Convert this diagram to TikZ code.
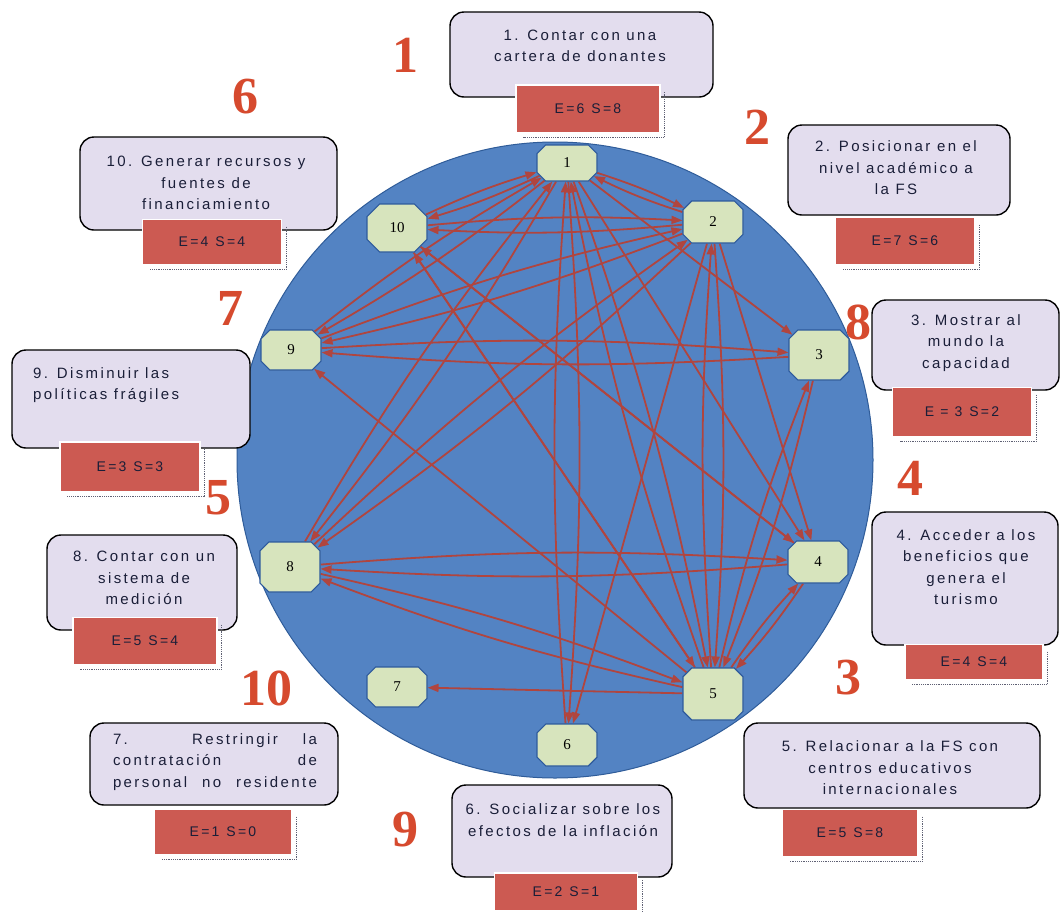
\documentclass[tikz,border=0pt]{standalone}
\usepackage{fontspec}
\setmainfont{Liberation Sans}
\newfontfamily\boxfont[LetterSpace=16]{Liberation Sans}
\newfontfamily\numfont{Liberation Serif}
\usetikzlibrary{shapes.misc,arrows.meta}

\definecolor{disc}{HTML}{5383C3}
\definecolor{discedge}{HTML}{2F5C99}
\definecolor{octfill}{HTML}{D7E4BD}
\definecolor{octedge}{HTML}{2E5A9C}
\definecolor{linkc}{HTML}{B0453F}
\definecolor{cardfill}{HTML}{E3DDEE}
\definecolor{tagfill}{HTML}{CC5A52}
\definecolor{bignumc}{HTML}{D64A2E}
\definecolor{ink}{HTML}{1A1E38}

\pgfdeclarelayer{back}
\pgfdeclarelayer{links}
\pgfsetlayers{back,links,main}

\tikzset{
  octa/.style={chamfered rectangle, chamfered rectangle xsep=11pt,
    chamfered rectangle ysep=11pt, minimum width=60pt, minimum height=42pt,
    inner sep=0pt, fill=octfill, draw=octedge, line width=1.1pt,
    font=\numfont\fontsize{15}{15}\selectfont, text=black},
  card/.style={rectangle, rounded corners=14pt, draw=black, line width=1.4pt,
    fill=cardfill, inner sep=0pt},
  cardtext/.style={align=center, font=\boxfont\fontsize{15}{21.5}\selectfont,
    text=ink, inner sep=0pt},
  tag/.style={rectangle, fill=tagfill, draw=white, line width=1.6pt, inner sep=0pt,
    font=\boxfont\fontsize{14}{14}\selectfont, text=ink},
  tagshade/.style={draw=ink!70, densely dotted, line width=1.2pt},
  bignum/.style={font=\numfont\bfseries\fontsize{52}{52}\selectfont, text=bignumc},
  link/.style={draw=linkc, line width=1.8pt, -{Triangle[length=11pt,width=8pt]}},
  twoway/.style={bend left=4},
}

\begin{document}
\begin{tikzpicture}[x=1pt,y=-1pt]
\useasboundingbox (0,0) rectangle (1061,911);

% ---- background and the big disc ----
\begin{pgfonlayer}{back}
  \fill[white] (0,0) rectangle (1061,911);
  \node[circle, minimum size=636pt, inner sep=0pt, fill=disc, draw=discedge,
        line width=1pt] (disc) at (555,460) {};
\end{pgfonlayer}

% ---- octagonal nodes ----
\node[octa, minimum height=36pt] (n1)  at (567,163) {1};
\node[octa, minimum height=48pt] (n10) at (397,228) {10};
\node[octa]                      (n2)  at (713,222) {2};
\node[octa, minimum height=40pt] (n9)  at (291,350) {9};
\node[octa, minimum height=50pt] (n3)  at (819,355) {3};
\node[octa, minimum height=50pt] (n8)  at (290,567) {8};
\node[octa]                      (n4)  at (818,562) {4};
\node[octa, minimum height=40pt] (n7)  at (397,687) {7};
\node[octa, minimum height=52pt] (n5)  at (713,694) {5};
\node[octa]                      (n6)  at (567,745) {6};

% ---- influence links ----
\begin{pgfonlayer}{links}
  \draw[link] (n1) to[twoway] (n2);
  \draw[link] (n2) to[twoway] (n1);
  \draw[link] (n1) to[twoway] (n10);
  \draw[link] (n10) to[twoway] (n1);
  \draw[link] (n1) to[twoway] (n9);
  \draw[link] (n9) to[twoway] (n1);
  \draw[link] (n1) to[twoway] (n8);
  \draw[link] (n8) to[twoway] (n1);
  \draw[link] (n1) to[twoway] (n6);
  \draw[link] (n6) to[twoway] (n1);
  \draw[link] (n1) to[twoway] (n5);
  \draw[link] (n5) to[twoway] (n1);
  \draw[link] (n1) -- (n4);
  \draw[link] (n1) -- (n3);
  \draw[link] (n2) to[twoway] (n10);
  \draw[link] (n10) to[twoway] (n2);
  \draw[link] (n2) to[twoway] (n9);
  \draw[link] (n9) to[twoway] (n2);
  \draw[link] (n2) to[twoway] (n8);
  \draw[link] (n8) to[twoway] (n2);
  \draw[link] (n2) -- (n6);
  \draw[link] (n2) to[twoway] (n5);
  \draw[link] (n5) to[twoway] (n2);
  \draw[link] (n2) -- (n4);
  \draw[link] (n3) to[twoway] (n9);
  \draw[link] (n9) to[twoway] (n3);
  \draw[link] (n3) to[twoway] (n5);
  \draw[link] (n5) to[twoway] (n3);
  \draw[link] (n4) to[twoway] (n8);
  \draw[link] (n8) to[twoway] (n4);
  \draw[link] (n4) to[twoway] (n5);
  \draw[link] (n5) to[twoway] (n4);
  \draw[link] (n4) -- (n10);
  \draw[link] (n5) -- (n7);
  \draw[link] (n5) to[twoway] (n8);
  \draw[link] (n8) to[twoway] (n5);
  \draw[link] (n5) -- (n9);
  \draw[link] (n5) -- (n10);
  \draw[link] (n10) -- (n4);
  \draw[link] (n10) -- (n5);
\end{pgfonlayer}

% ---- rounded description cards ----
\node[card, minimum width=263pt, minimum height=85pt] (c1)  at (581.5,54.5) {};
\node[card, minimum width=222pt, minimum height=90pt] (c2)  at (899,170) {};
\node[card, minimum width=257pt, minimum height=93pt] (c10) at (208.5,183.5) {};
\node[card, minimum width=187pt, minimum height=90pt] (c3)  at (965.5,345) {};
\node[card, minimum width=238pt, minimum height=98pt] (c9)  at (131,399) {};
\node[card, minimum width=190pt, minimum height=95pt] (c8)  at (142,582.5) {};
\node[card, minimum width=186pt, minimum height=133pt] (c4) at (965,578.5) {};
\node[card, minimum width=248pt, minimum height=82pt] (c7)  at (214,764) {};
\node[card, minimum width=220pt, minimum height=92pt] (c6)  at (562,831) {};
\node[card, minimum width=296pt, minimum height=85pt] (c5)  at (892,765.5) {};

\node[cardtext] (t1)  at (580,46)  {1. Contar con una\\cartera de donantes};
\node[cardtext] (t2)  at (896,168) {2. Posicionar en el\\nivel académico a\\la FS};
\node[cardtext] (t10) at (206,183) {10. Generar recursos y\\fuentes de\\financiamiento};
\node[cardtext] (t3)  at (966,343) {3. Mostrar al\\mundo la\\capacidad};
\node[cardtext, anchor=west, align=left] (t9) at (33,385) {9. Disminuir las\\políticas frágiles};
\node[cardtext] (t8)  at (144,578) {8. Contar con un\\sistema de\\medición};
\node[cardtext] (t4)  at (966,567) {4. Acceder a los\\beneficios que\\genera el\\turismo};
\node[cardtext] (t7)  at (215,762) {\makebox[204pt][s]{7. Restringir la}\\
  \makebox[204pt][s]{contratación de}\\\makebox[204pt][s]{personal no residente}};
\node[cardtext] (t6)  at (563,820) {6. Socializar sobre los\\efectos de la inflación};
\node[cardtext] (t5)  at (890,768) {5. Relacionar a la FS con\\centros educativos\\internacionales};

% ---- entry / exit count tags ----
\foreach \nm/\cx/\cy/\w/\h/\txt in {
    r1/588/109/144/48/{E=6\enspace S=8},
    r2/905/241/139/47/{E=7\enspace S=6},
    r10/212/242/139/45/{E=4\enspace S=4},
    r3/962/412/139/49/{E = 3\enspace S=2},
    r9/130/467/140/50/{E=3\enspace S=3},
    r8/145/641/144/47/{E=5\enspace S=4},
    r4/974/662/138/35/{E=4\enspace S=4},
    r7/223/832/137/45/{E=1\enspace S=0},
    r6/566/892/143/38/{E=2\enspace S=1},
    r5/850/833/136/47/{E=5\enspace S=8}}{
  \node[tag, minimum width=\w pt, minimum height=\h pt] (\nm) at (\cx,\cy) {\txt};
  \draw[tagshade] ([shift={(4,8)}]\nm.north east) -- ([shift={(4,4)}]\nm.south east)
        -- ([shift={(8,4)}]\nm.south west);
}

% ---- ranking numerals ----
\node[bignum] (k1)  at (405,55)  {1};
\node[bignum] (k2)  at (757,127) {2};
\node[bignum] (k6)  at (245,97)  {6};
\node[bignum] (k7)  at (230,308) {7};
\node[bignum] (k8)  at (858,322) {8};
\node[bignum] (k5)  at (218,498) {5};
\node[bignum] (k4)  at (910,478) {4};
\node[bignum] (k10) at (266,688) {10};
\node[bignum] (k3)  at (848,678) {3};
\node[bignum] (k9)  at (405,830) {9};
\end{tikzpicture}
\end{document}
